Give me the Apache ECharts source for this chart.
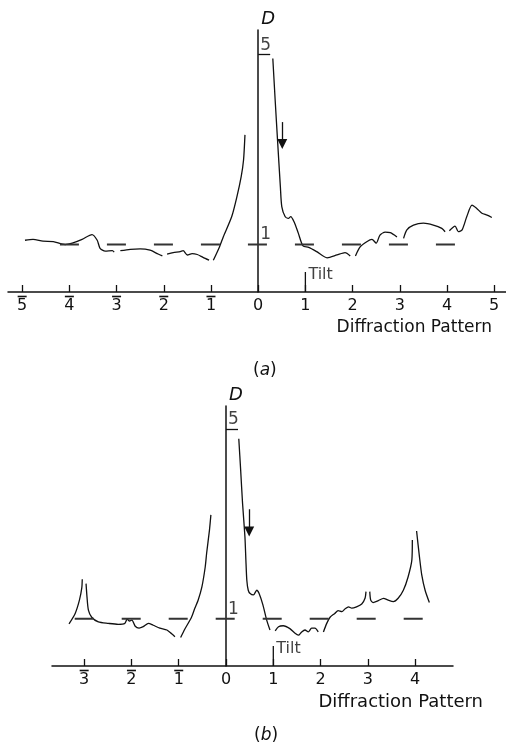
<!DOCTYPE html>
<html>
<head>
<meta charset="utf-8">
<title>Diffraction pattern</title>
<script src="https://cdn.jsdelivr.net/npm/echarts@6/dist/echarts.min.js"></script>
<style>
  html, body { margin: 0; background: #fff; }
  #chart { width: 506px; height: 745px; }
</style>
</head>
<body>
<div id="chart"></div>
<script>
// tick values and their labels (negative orders get a bar over the digit)
var xTicksA = [-5, -4, -3, -2, -1, 0, 1, 2, 3, 4, 5];
var xLabelsA = ['5', '4', '3', '2', '1', '0', '1', '2', '3', '4', '5'];
var xTicksB = [-3, -2, -1, 0, 1, 2, 3, 4];
var xLabelsB = ['3', '2', '1', '0', '1', '2', '3', '4'];
var levelTicks = [5];
var levelMarks = [[0, 1], [0, 5]];
var levelLabels = ['1', '5'];

// intensity trace (a), pieces as drawn
var a1 = [[-4.94,1.09],[-4.77,1.11],[-4.56,1.07],[-4.34,1.06],[-4.09,1.00],[-3.94,1.03],[-3.73,1.11],[-3.52,1.21],[-3.41,1.09],[-3.35,0.92],[-3.24,0.86],[-3.09,0.87],[-3.05,0.84]];
var a2 = [[-2.92,0.87],[-2.71,0.90],[-2.50,0.91],[-2.29,0.88],[-2.12,0.80],[-2.03,0.76]];
var a3 = [[-1.93,0.80],[-1.80,0.83],[-1.65,0.85],[-1.59,0.87],[-1.50,0.78],[-1.40,0.81],[-1.29,0.79],[-1.17,0.73],[-1.04,0.67]];
var a4 = [[-0.95,0.67],[-0.82,0.95],[-0.74,1.16],[-0.56,1.59],[-0.45,2.01],[-0.36,2.43],[-0.31,2.78],[-0.28,3.31]];
var a5 = [[0.31,4.92],[0.36,4.04],[0.41,3.20],[0.47,2.22],[0.50,1.80],[0.57,1.59],[0.64,1.55],[0.69,1.59],[0.76,1.48],[0.85,1.24],[0.95,0.97],[1.07,0.94],[1.24,0.85],[1.46,0.72],[1.67,0.78],[1.84,0.83],[1.95,0.76]];
var a6 = [[2.06,0.76],[2.16,0.95],[2.30,1.06],[2.41,1.11],[2.50,1.03],[2.58,1.20],[2.69,1.26],[2.80,1.25],[2.94,1.16]];
var a7 = [[3.08,1.13],[3.15,1.31],[3.29,1.41],[3.50,1.45],[3.71,1.41],[3.89,1.34],[3.96,1.27]];
var a8 = [[4.05,1.29],[4.17,1.39],[4.24,1.27],[4.32,1.31],[4.42,1.59],[4.53,1.83],[4.63,1.76],[4.74,1.66],[4.85,1.62],[4.95,1.57]];

// intensity trace (b)
var b1 = [[-3.32,0.89],[-3.19,1.11],[-3.10,1.39],[-3.05,1.65],[-3.04,1.83]];
var b2 = [[-2.96,1.74],[-2.94,1.46],[-2.91,1.18],[-2.84,1.03],[-2.70,0.93],[-2.49,0.90],[-2.28,0.88],[-2.14,0.90],[-2.09,0.99],[-2.04,0.95],[-1.99,0.97],[-1.92,0.84],[-1.84,0.80],[-1.75,0.83],[-1.64,0.90],[-1.54,0.86],[-1.40,0.80],[-1.25,0.76],[-1.15,0.68],[-1.08,0.62]];
var b3 = [[-0.96,0.60],[-0.87,0.78],[-0.73,1.03],[-0.66,1.22],[-0.59,1.39],[-0.51,1.67],[-0.44,2.09],[-0.41,2.38],[-0.35,2.87],[-0.32,3.19]];
var b4 = [[0.27,4.80],[0.31,4.13],[0.35,3.43],[0.40,2.73],[0.42,2.24],[0.44,1.81],[0.47,1.60],[0.51,1.53],[0.58,1.50],[0.65,1.60],[0.70,1.53],[0.78,1.29],[0.86,0.97],[0.93,0.76]];
var b5 = [[1.04,0.74],[1.11,0.83],[1.21,0.85],[1.35,0.79],[1.46,0.69],[1.53,0.65],[1.60,0.72],[1.67,0.76],[1.74,0.72],[1.81,0.80],[1.88,0.80],[1.95,0.72]];
var b6 = [[2.06,0.72],[2.13,0.90],[2.20,1.03],[2.30,1.11],[2.37,1.17],[2.45,1.15],[2.52,1.21],[2.59,1.25],[2.66,1.22],[2.76,1.25],[2.87,1.31],[2.94,1.43],[2.96,1.57]];
var b7 = [[3.04,1.57],[3.06,1.39],[3.11,1.34],[3.22,1.38],[3.33,1.43],[3.43,1.39],[3.54,1.36],[3.64,1.43],[3.75,1.60],[3.85,1.88],[3.93,2.24],[3.94,2.66]];
var b8 = [[4.03,2.85],[4.09,2.31],[4.14,1.92],[4.21,1.60],[4.30,1.34]];

// reference level 1 (dashed), tilt marker and arrows
var levelA = [[-4.2,1],[4.2,1]];
var levelB = [[-3.2,1],[4.2,1]];
var tiltTick = [[1,0],[1,0.42]];
var tiltText = [[1,0.36]];
var arrowA = [[0.51,3.58],[0.51,3.12]];
var arrowB = [[0.49,3.31],[0.49,2.84]];

var ink = '#111';
var font = 'DejaVu Sans';

var curve = function(data, idx){
	return {
		type: 'line', data: data, xAxisIndex: idx, yAxisIndex: idx,
		symbol: 'none', smooth: 0.25, silent: true,
		lineStyle: { color: ink, width: 1.3 }
	};
};

var extras = function(idx, level, arrow){
	return [
		{
			type: 'line', data: level, xAxisIndex: idx, yAxisIndex: idx,
			symbol: 'none', silent: true,
			lineStyle: { color: '#333', width: 2, type: [19, 28] }
		},
		{
			type: 'line', data: tiltTick, xAxisIndex: idx, yAxisIndex: idx,
			symbol: 'none', silent: true,
			lineStyle: { color: ink, width: 1.3 },
			markLine: {
				silent: true, symbol: ['none', 'triangle'], symbolSize: 10,
				label: { show: false },
				lineStyle: { color: ink, width: 1.3, type: 'solid' },
				data: [[{ coord: arrow[0] }, { coord: arrow[1] }]]
			}
		},
		{
			type: 'scatter', data: tiltText, xAxisIndex: idx, yAxisIndex: idx,
			symbolSize: 0, silent: true,
			label: { show: true, position: 'right', distance: 3, formatter: 'Tilt',
				color: ink, fontFamily: font, fontSize: 16 }
		},
		{
			// the "1" and "5" marks beside the vertical axis
			type: 'scatter', data: levelMarks, xAxisIndex: idx, yAxisIndex: idx,
			symbolSize: 0, silent: true,
			label: { show: true, position: [2, -1], align: 'left', verticalAlign: 'bottom',
				formatter: function(p){ return levelLabels[p.dataIndex]; },
				color: ink, fontFamily: font, fontSize: 17 }
		}
	];
};

var xAxisFor = function(idx, min, max, ticks, labels, gap, nameSize){
	return {
		type: 'value', gridIndex: idx, min: min, max: max,
		axisLine: { onZero: false, lineStyle: { color: ink, width: 1.5 } },
		axisTick: { inside: true, length: 7, customValues: ticks, lineStyle: { color: ink, width: 1.3 } },
		axisLabel: {
			customValues: ticks, margin: 3,
			formatter: function(v){
				var s = labels[ticks.indexOf(v)];
				return (v < 0 ? '{bar| }' : '{nb| }') + '\n{d|' + s + '}';
			},
			rich: {
				bar: { width: 9, height: 1.6, lineHeight: 3, backgroundColor: ink },
				nb: { width: 9, height: 1.6, lineHeight: 3 },
				d: { color: ink, fontFamily: font, fontSize: 16, lineHeight: 15 }
			}
		},
		splitLine: { show: false },
		name: 'Diffraction Pattern', nameLocation: 'end', nameGap: gap,
		nameTextStyle: { align: 'right', verticalAlign: 'top', padding: [27, 0, 0, 0],
			color: ink, fontFamily: font, fontSize: nameSize }
	};
};

var yAxisFor = function(idx, max){
	return {
		type: 'value', gridIndex: idx, min: 0, max: max,
		axisLine: { show: true, onZero: true, lineStyle: { color: ink, width: 1.5 } },
		axisTick: { show: true, inside: true, length: 12, customValues: levelTicks, lineStyle: { color: ink, width: 1.3 } },
		axisLabel: { show: false },
		splitLine: { show: false },
		name: 'D', nameLocation: 'end', nameGap: 2,
		nameTextStyle: { align: 'left', padding: [0, 0, 0, 3], fontStyle: 'italic',
			color: ink, fontFamily: font, fontSize: 18 }
	};
};

var series = [];
[a1, a2, a3, a4, a5, a6, a7, a8].forEach(function(s){ series.push(curve(s, 0)); });
[b1, b2, b3, b4, b5, b6, b7, b8].forEach(function(s){ series.push(curve(s, 1)); });
series = series.concat(extras(0, levelA, arrowA), extras(1, levelB, arrowB));

var capStyle = { color: ink, fontFamily: font, fontSize: 17, fontWeight: 'normal',
	rich: { it: { fontStyle: 'italic', color: ink, fontFamily: font, fontSize: 17 } } };

var option = {
	backgroundColor: '#fff',
	animation: false,
	title: [
		{ text: '({it|a})', left: 248, top: 357, textStyle: capStyle },
		{ text: '({it|b})', left: 249, top: 722, textStyle: capStyle }
	],
	grid: [
		{ left: 8, top: 30, width: 498, height: 262 },
		{ left: 52, top: 406, width: 401, height: 260 }
	],
	xAxis: [
		xAxisFor(0, -5.3, 5.25, xTicksA, xLabelsA, -14, 17),
		xAxisFor(1, -3.68, 4.8, xTicksB, xLabelsB, 30, 18)
	],
	yAxis: [ yAxisFor(0, 5.52), yAxisFor(1, 5.49) ],
	series: series
};

var chart = echarts.init(document.getElementById('chart'));
chart.setOption(option);
</script>
</body>
</html>
